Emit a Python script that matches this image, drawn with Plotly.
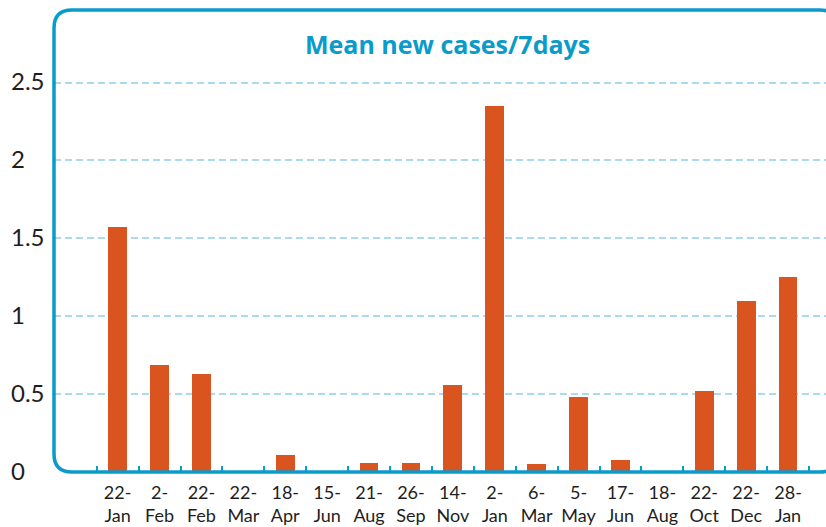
import plotly.graph_objects as go

# Weekly-mean new cases per reporting date
dates = ["22-<br>Jan", "2-<br>Feb", "22-<br>Feb", "22-<br>Mar", "18-<br>Apr", "15-<br>Jun",
         "21-<br>Aug", "26-<br>Sep", "14-<br>Nov", "2-<br>Jan", "6-<br>Mar", "5-<br>May",
         "17-<br>Jun", "18-<br>Aug", "22-<br>Oct", "22-<br>Dec", "28-<br>Jan"]
mean_new_cases = [1.57, 0.69, 0.63, 0.0, 0.11, 0.0, 0.06, 0.06, 0.56, 2.35,
                  0.05, 0.48, 0.08, 0.0, 0.52, 1.10, 1.25]
y_ticks = [0, 0.5, 1, 1.5, 2, 2.5]
y_tick_text = ["0", "0.5", "1", "1.5", "2", "2.5"]
title_text = "Mean new cases/7days"

BLUE = "#0a9bcb"
BAR = "#d9541f"
GRID = "#a9daee"
TEXT = "#1e1e1e"
FONT = "Lato"

W, H = 826, 527
ML, MR, MT, MB = 54, 0, 10, 55
PW, PH = W - ML - MR, H - MT - MB

# Category axis keeps the dates distinct (some labels repeat across years)
cat_ids = [f"c{i}" for i in range(len(dates))]

fig = go.Figure(go.Bar(
    x=cat_ids,
    y=mean_new_cases,
    width=0.45,
    marker=dict(color=BAR, line=dict(width=0)),
    customdata=dates,
    hovertemplate="%{customdata}: %{y}<extra></extra>",
))

# Rounded frame around the plot area (paper units, radius given in px)
r = 18
rx, ry = r / PW, r / PH
x0, x1 = 0.0, (838 - ML) / PW
y0, y1 = 0.0, 1.0
path = (f"M {x0},{y0 + ry} L {x0},{y1 - ry} Q {x0},{y1} {x0 + rx},{y1} "
        f"L {x1 - rx},{y1} Q {x1},{y1} {x1},{y1 - ry} "
        f"L {x1},{y0 + ry} Q {x1},{y0} {x1 - rx},{y0} "
        f"L {x0 + rx},{y0} Q {x0},{y0} {x0},{y0 + ry} Z")
fig.add_shape(type="path", path=path, xref="paper", yref="paper",
              line=dict(color=BLUE, width=3.5), fillcolor="rgba(0,0,0,0)", layer="above")

# Left-aligned value labels for the y axis
for v, t in zip(y_ticks, y_tick_text):
    fig.add_annotation(x=(9 - ML) / PW, xref="paper", xanchor="left",
                       y=v, yref="y", yanchor="middle", yshift=2,
                       text=t, showarrow=False,
                       font=dict(family=FONT, size=24, color=TEXT))

fig.add_annotation(x=(447 - ML) / PW, xref="paper", xanchor="center",
                   y=(472 - 44) / PH, yref="paper", yanchor="middle",
                   text=f"<b>{title_text}</b>", showarrow=False,
                   font=dict(family="Open Sans", size=25, color=BLUE))

slot = 41.9
fig.update_layout(
    width=W, height=H,
    margin=dict(l=ML, r=MR, t=MT, b=MB, autoexpand=False),
    paper_bgcolor="white", plot_bgcolor="white",
    showlegend=False,
    bargap=0,
    xaxis=dict(
        type="category",
        tickmode="array", tickvals=cat_ids, ticktext=dates,
        range=[-0.5 - (96.7 - ML) / slot, -0.5 + (W - 96.7) / slot],
        ticks="inside", ticklen=6, tickwidth=1.5, tickcolor=BLUE,
        tickson="boundaries",
        tickangle=0, automargin=False,
        ticklabelstandoff=8,
        showgrid=False, zeroline=False, showline=False,
        tickfont=dict(family=FONT, size=18, color=TEXT),
        fixedrange=True,
    ),
    yaxis=dict(
        range=[0, (472 - 10) / 155.8],
        tickmode="array", tickvals=y_ticks[1:],
        showticklabels=False, ticks="", automargin=False,
        showgrid=True, gridcolor=GRID, gridwidth=1.5, griddash="7px,4px",
        zeroline=False, showline=False,
        fixedrange=True,
    ),
)

fig.write_html("out.html")
